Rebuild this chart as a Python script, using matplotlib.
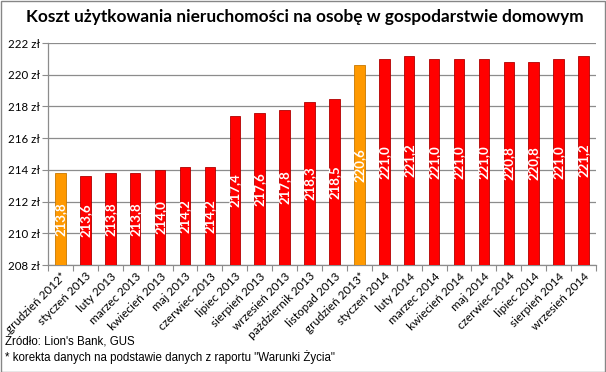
import matplotlib
matplotlib.use("Agg")
import matplotlib.pyplot as plt
from matplotlib.patches import Rectangle
import numpy as np

categories = ["grudzień 2012*", "styczeń 2013", "luty 2013", "marzec 2013", "kwiecień 2013",
              "maj 2013", "czerwiec 2013", "lipiec 2013", "sierpień 2013", "wrzesień 2013",
              "październik 2013", "listopad 2013", "grudzień 2013*", "styczeń 2014", "luty 2014",
              "marzec 2014", "kwiecień 2014", "maj 2014", "czerwiec 2014", "lipiec 2014",
              "sierpień 2014", "wrzesień 2014"]
values = [213.8, 213.6, 213.8, 213.8, 214.0, 214.2, 214.2, 217.4, 217.6, 217.8,
          218.3, 218.5, 220.6, 221.0, 221.2, 221.0, 221.0, 221.0, 220.8, 220.8,
          221.0, 221.2]
corrected = [True, False, False, False, False, False, False, False, False, False,
             False, False, True, False, False, False, False, False, False, False,
             False, False]
yticks = [208, 210, 212, 214, 216, 218, 220, 222]

title = "Koszt użytkowania nieruchomości na osobę w gospodarstwie domowym"
source = "Źródło: Lion's Bank, GUS"
note = '* korekta danych na podstawie danych z raportu "Warunki Życia"'

fig = plt.figure(figsize=(6.06, 3.72), dpi=100)
fig.patch.set_facecolor("white")
W, H = 606, 372
ax = fig.add_axes([48 / W, 1 - 265 / H, (596 - 48) / W, (265 - 43) / H])

x = np.arange(len(categories))
colors = ["#FF9900" if c else "#FF0000" for c in corrected]
edges = ["#C87800" if c else "#B00000" for c in corrected]
bottom = yticks[0]
ax.bar(x, np.array(values) - bottom, bottom=bottom, width=0.42, color=colors,
       edgecolor=edges, linewidth=0.6, zorder=3)

for xi, v in zip(x, values):
    ax.text(xi, (v + bottom) / 2, f"{v:.1f}".replace(".", ","), rotation=90,
            ha="center", va="center", color="white", fontsize=9.5, fontweight="bold",
            family="Lato", zorder=4)

ax.set_ylim(yticks[0], yticks[-1])
ax.set_xlim(-0.5, len(categories) - 0.5)
ax.set_yticks(yticks)
ax.set_yticklabels([f"{t} zł" for t in yticks], family="Lato", fontsize=8.3)
ax.yaxis.grid(True, color="#8C8C8C", linewidth=0.9, zorder=0)
ax.set_axisbelow(True)

ax.set_xticks(x)
ax.set_xticklabels(categories, rotation=45, ha="right", rotation_mode="anchor",
                   family="Lato", fontsize=8.5)
ax.tick_params(axis="x", length=0, pad=4)
ax.set_xticks(np.arange(len(categories) + 1) - 0.5, minor=True)
ax.tick_params(axis="x", which="minor", length=4, color="#8C8C8C", width=0.8)
ax.tick_params(axis="y", length=4, color="#8C8C8C", width=0.8, pad=2)

for s in ["top", "right"]:
    ax.spines[s].set_visible(False)
for s in ["left", "bottom"]:
    ax.spines[s].set_color("#8C8C8C")
    ax.spines[s].set_linewidth(0.9)

fig.text(305 / W, 1 - 17 / H, title, ha="center", va="center", fontsize=12.4,
         fontweight="bold", family="Lato")
fig.text(5 / W, 1 - 342 / H, source, ha="left", va="center", fontsize=8.3,
         family="Liberation Sans")
fig.text(5 / W, 1 - 357 / H, note, ha="left", va="center", fontsize=8.3,
         family="Liberation Sans")

fig.patches.append(Rectangle((0.5 / W, 0.5 / H), 1 - 1.5 / W, 1 - 1.5 / H,
                             transform=fig.transFigure, fill=False,
                             edgecolor="#868686", linewidth=1.0))

fig.savefig("out.png", dpi=100)
